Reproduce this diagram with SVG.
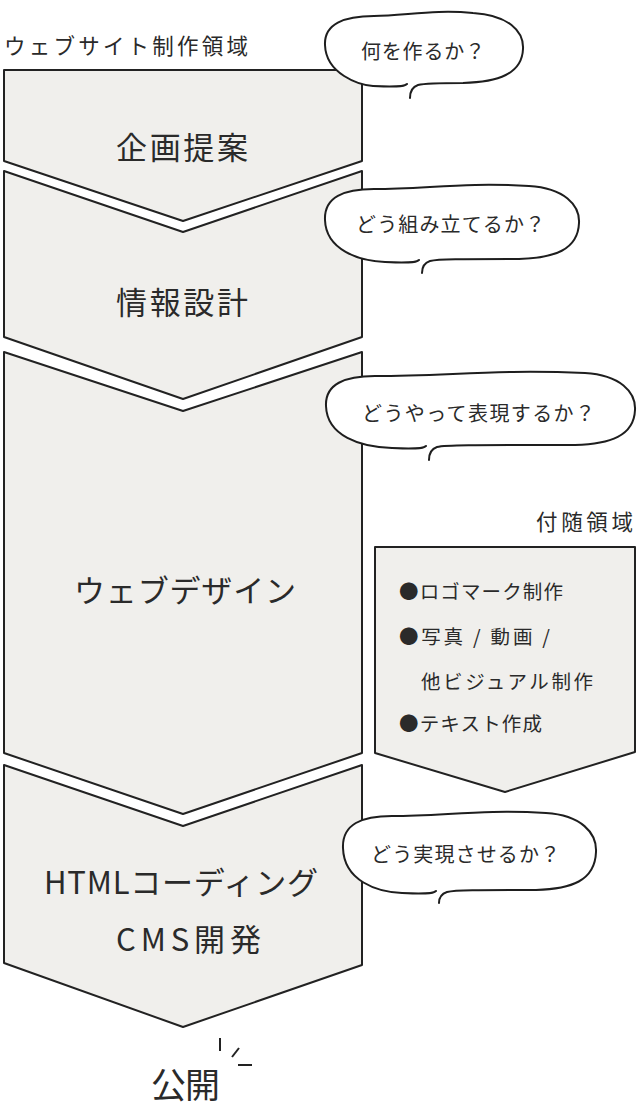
<svg xmlns="http://www.w3.org/2000/svg" width="640" height="1120" viewBox="0 0 640 1120">
<style>
.blk{fill:#f0efec;stroke:#222;stroke-width:2;stroke-linejoin:round}
.bub{fill:#fff;stroke:#1e1e1e;stroke-width:2;stroke-linecap:round;stroke-linejoin:round}
text{font-family:"Noto Sans CJK JP","Noto Sans",sans-serif;fill:#2a2a2a;dominant-baseline:central}
.lbl{font-size:31px}
.q{font-size:20px}
.itm{font-size:19.5px}
.ttl{font-size:21.5px}
.tick{stroke:#222;stroke-width:2;stroke-linecap:butt}
</style>
<rect width="640" height="1120" fill="#fff"/>
<text class="ttl" x="4" y="44" textLength="244" lengthAdjust="spacing">ウェブサイト制作領域</text>

<g id="n1">
<path class="blk" d="M4,70 L362,70 L362,161 L183,221 L4,161 Z"/>
<text class="lbl" x="116" y="145" textLength="132" lengthAdjust="spacing">企画提案</text>
</g>
<g id="n2">
<path class="blk" d="M4,171 L183,232 L362,171 L362,337 L183,399 L4,337 Z"/>
<text class="lbl" x="116" y="300" textLength="132" lengthAdjust="spacing">情報設計</text>
</g>
<g id="n3">
<path class="blk" d="M4,352 L183,411 L362,352 L362,753 L183,814 L4,753 Z"/>
<text class="lbl" x="74" y="588" textLength="222" lengthAdjust="spacing">ウェブデザイン</text>
</g>
<g id="n4">
<path class="blk" d="M4,765 L183,826 L362,765 L362,965 L183,1027 L4,963 Z"/>
<text class="lbl" x="44" y="880" textLength="274" lengthAdjust="spacing">HTMLコーディング</text>
<text class="lbl" x="116" y="937" textLength="145" lengthAdjust="spacing">CMS開発</text>
</g>

<g id="side">
<text class="ttl" x="536" y="520" textLength="97" lengthAdjust="spacing">付随領域</text>
<path class="blk" d="M375,547 L635,547 L635,752 L505,792 L375,753 Z"/>
<text class="itm" x="399" y="590" textLength="164" lengthAdjust="spacing">●ロゴマーク制作</text>
<text class="itm" x="399" y="635" textLength="151" lengthAdjust="spacing">●写真 / 動画 /</text>
<text class="itm" x="421" y="680" textLength="172" lengthAdjust="spacing">他ビジュアル制作</text>
<text class="itm" x="399" y="722" textLength="143" lengthAdjust="spacing">●テキスト作成</text>
</g>

<g id="b1">
<path class="bub" d="M407,84 C404,87 393,87 373,86 C359,85 326,74 325,45 C324,24 344,16 374,16 C404,16 434,9 473,13 C508,15 524,31 523,49 C522,74 498,82 463,83 C448,83 426,83 418,85 C412,87 410,92 410,98"/>
<text class="q" x="361" y="50" textLength="124" lengthAdjust="spacing">何を作るか？</text>
</g>
<g id="b2">
<path class="bub" d="M419,260 C416,263 405,263 385,262 C359,261 326,250 325,220 C324,197 344,189 374,189 C426,189 464,182 529,186 C564,188 580,205 579,223 C578,250 554,258 519,259 C460,259 438,259 430,261 C424,263 422,268 422,273"/>
<text class="q" x="356" y="223" textLength="189" lengthAdjust="spacing">どう組み立てるか？</text>
</g>
<g id="b3">
<path class="bub" d="M426,446 C423,449 412,449 392,448 C360,447 327,436 326,406 C325,384 345,376 375,376 C449,376 495,369 585,373 C620,375 636,392 635,410 C634,436 610,444 575,445 C467,445 445,445 437,447 C431,449 429,454 429,460"/>
<text class="q" x="362" y="412" textLength="233" lengthAdjust="spacing">どうやって表現するか？</text>
</g>
<g id="b4">
<path class="bub" d="M436,891 C433,894 422,894 402,893 C377,892 344,881 343,848 C342,824 362,816 392,816 C444,816 482,809 546,813 C581,815 597,833 596,852 C595,881 571,889 536,890 C477,890 455,890 447,892 C441,894 439,899 439,903"/>
<text class="q" x="371" y="853" textLength="189" lengthAdjust="spacing">どう実現させるか？</text>
</g>

<g id="launch">
<text x="151" y="1082" style="font-size:35px" textLength="69" lengthAdjust="spacing">公開</text>
</g>
<g id="connectors">
<line class="tick" x1="220" y1="1038" x2="220" y2="1051"/>
<line class="tick" x1="232" y1="1057" x2="239" y2="1048"/>
<line class="tick" x1="238" y1="1065" x2="252" y2="1065"/>
</g>
</svg>
